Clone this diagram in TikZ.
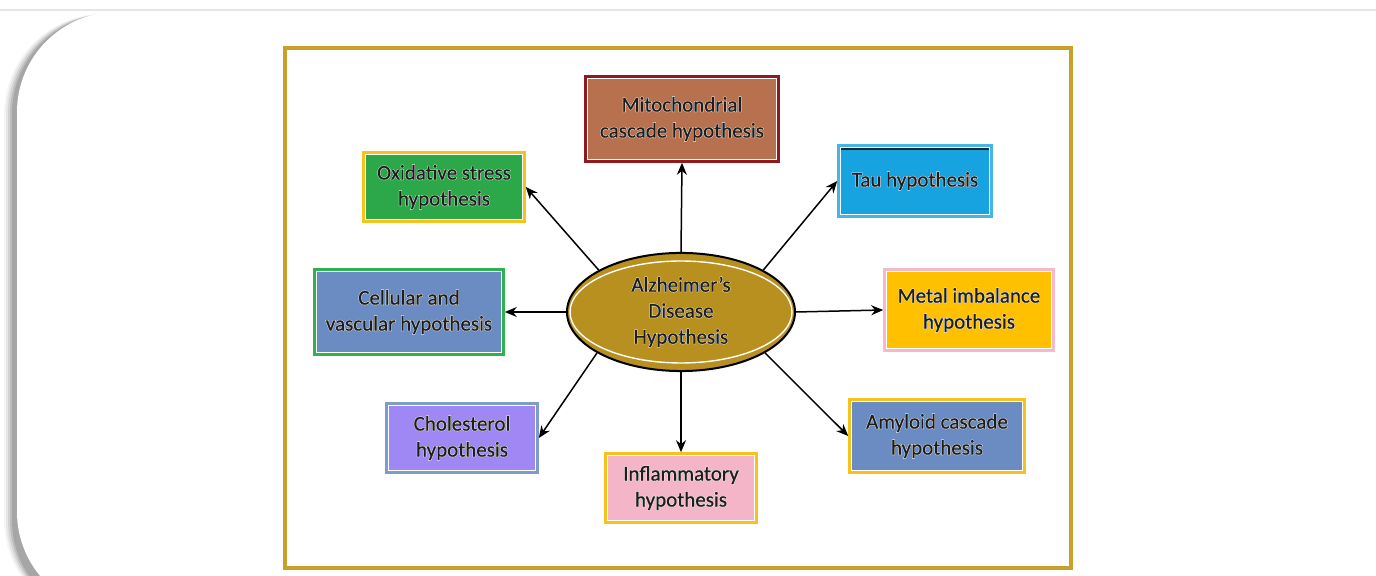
\documentclass[tikz,border=0pt]{standalone}
\usepackage{fontspec}
\setmainfont{Carlito}
\usetikzlibrary{shapes.geometric,arrows.meta}
\definecolor{gold}{HTML}{C9A02A}
\definecolor{brownfill}{HTML}{B8714F}
\definecolor{darkred}{HTML}{8E1A1F}
\definecolor{greenfill}{HTML}{2CA84A}
\definecolor{yellowb}{HTML}{F8C21C}
\definecolor{taufill}{HTML}{17A3E0}
\definecolor{steel}{HTML}{6B8CC2}
\definecolor{greenb}{HTML}{2EB24E}
\definecolor{amber}{HTML}{FFC000}
\definecolor{pinkb}{HTML}{F6B9CB}
\definecolor{lav}{HTML}{9F88F4}
\definecolor{lavb}{HTML}{7E9CC9}
\definecolor{pinkfill}{HTML}{F5B5C8}
\definecolor{ellfill}{HTML}{B8901F}
\definecolor{txt}{HTML}{1E1E1E}
\newcommand{\hl}[1]{\leavevmode\rlap{\color{white}\addfontfeature{FakeBold=5}#1}{\addfontfeature{FakeBold=1}#1}}
\tikzset{
  hyp/.style={draw=#1, line width=1.8pt, minimum height=34pt, align=center, text=txt,
    font=\fontsize{10.5}{13}\selectfont, inner sep=2pt},
  arr/.style={-{Stealth[length=6pt,width=5pt]}, line width=0.75pt, black},
}
\begin{document}
\begin{tikzpicture}[x=0.5pt,y=-0.5pt]
\useasboundingbox (0,0) rectangle (1376,576);
\fill[white] (0,0) rectangle (1376,576);
\draw[gray!20, line width=0.6pt] (0,10) -- (1376,10);
% card shadow
\foreach \i/\o in {8/0.04,6/0.06,4/0.08,2/0.10,0/0.12}{
  \fill[black, opacity=\o, rounded corners=50pt] (12-\i,14) rectangle (1420,620);
}
\fill[white, rounded corners=50pt] (17,12) rectangle (1420,612);
% frame
\draw[gold, line width=1.6pt] (285,48) rectangle (1071,568);
% center
\node[ellipse, draw=black, fill=ellfill, line width=1pt, minimum width=114pt, minimum height=54pt, align=center,
  text=txt, font=\fontsize{10.5}{13}\selectfont] (c) at (681,312) {\hl{Alzheimer's}\\\hl{Disease}\\\hl{Hypothesis}};
\draw[white, line width=0.7pt] (681,312) ellipse (111 and 51);
% boxes
\node[hyp=darkred, fill=brownfill, minimum width=96pt, minimum height=42pt] (mito) at (682,119) {\hl{Mitochondrial}\\\hl{cascade hypothesis}};
\node[hyp=yellowb, fill=greenfill, minimum width=80pt] (oxi) at (444,187) {\hl{Oxidative stress}\\\hl{hypothesis}};
\node[hyp=taufill!80!white, fill=taufill, minimum width=76pt, minimum height=35pt] (tau) at (915,181) {\hl{Tau hypothesis}};
\node[hyp=greenb, fill=steel, minimum width=94pt, minimum height=42pt] (cell) at (409,312) {\hl{Cellular and}\\\hl{vascular hypothesis}};
\node[hyp=pinkb, fill=amber, minimum width=84pt, minimum height=40pt] (metal) at (969,310) {\hl{Metal imbalance}\\\hl{hypothesis}};
\node[hyp=lavb, fill=lav, minimum width=75pt] (chol) at (462,438) {\hl{Cholesterol}\\\hl{hypothesis}};
\node[hyp=yellowb, fill=pinkfill, minimum width=75pt] (infl) at (681,488) {\hl{Inflammatory}\\\hl{hypothesis}};
\node[hyp=yellowb, fill=steel, minimum width=87pt, minimum height=36pt] (amy) at (937,436) {\hl{Amyloid cascade}\\\hl{hypothesis}};
% inner white lines
\foreach \n in {mito,oxi,tau,cell,metal,chol,infl,amy}{
  \draw[white, line width=0.5pt] ([shift={(3,3)}]\n.north west) rectangle ([shift={(-3,-3)}]\n.south east);
}
\draw[black!85, line width=1.2pt] ([shift={(4,5)}]tau.north west) -- ([shift={(-4,5)}]tau.north east);
% arrows
\draw[arr] (c.north) -- (mito.south);
\draw[arr] (c.153) -- (oxi.east);
\draw[arr] (c.27) -- (tau.west);
\draw[arr] (c.west) -- (cell.east);
\draw[arr] (c.east) -- (metal.west);
\draw[arr] (c.206) -- (chol.east);
\draw[arr] (c.south) -- (infl.north);
\draw[arr] (c.334) -- (amy.west);
\end{tikzpicture}
\end{document}
